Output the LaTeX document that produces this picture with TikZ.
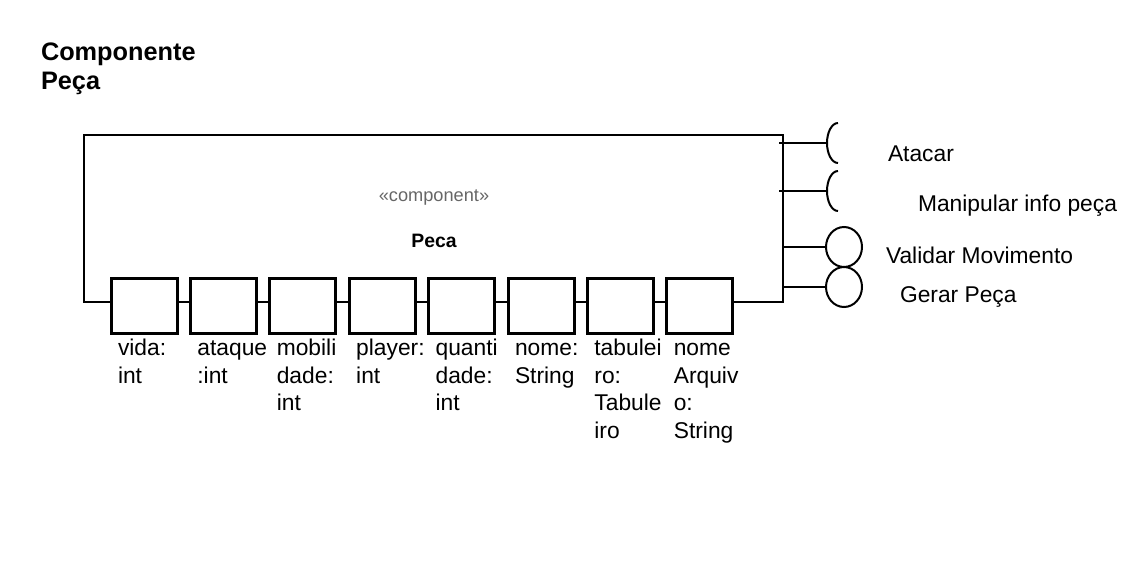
\documentclass[tikz,border=0pt]{standalone}
\usepackage{fontspec}
\setmainfont{Liberation Sans}
\usetikzlibrary{shapes.geometric}

\tikzset{
  port/.style={draw, line width=3pt, minimum width=66pt, minimum height=55pt, inner sep=0pt, outer sep=0pt},
  attr/.style={anchor=north west, align=left, text width=76pt, inner sep=0pt, font=\fontsize{22.8}{27.4}\selectfont, execute at begin node=\strut},
  iface/.style={anchor=base west, inner sep=0pt, font=\fontsize{22.8}{25}\selectfont},
  lolly/.style={draw, ellipse, line width=2pt, minimum width=36pt, minimum height=40pt, inner sep=0pt, outer sep=0pt},
}

\begin{document}
\begin{tikzpicture}[x=1pt, y=-1pt, line width=2pt]
	\useasboundingbox (0,0) rectangle (1123,586);
	
	% Title
	\node[anchor=north west, align=left, text width=200pt, inner sep=0pt, font=\bfseries\fontsize{25.3}{29.5}\selectfont, execute at begin node=\strut] (title) at (40,38.35) {Componente\\Peça};
	
	% Component body
	\coordinate (tl) at (84,135);
	\coordinate (tr) at (783,135);
	\coordinate (br) at (783,302);
	\coordinate (bus) at (84,302);
	\node[anchor=base, text=black!60, font=\fontsize{18.2}{18.2}\selectfont] (stereo) at (434,201) {«component»};
	\node[anchor=base, font=\bfseries\fontsize{19.4}{19.4}\selectfont] (name) at (434,247) {Peca};
	
	% Attribute ports
	\foreach \i/\lbl in {1/{vida:\\int}, 2/{ataque\\:int}, 3/{mobili\\dade:\\int}, 4/{player:\\int}, 5/{quanti\\dade:\\int}, 6/{nome:\\String}, 7/{tabulei\\ro:\\Tabule\\iro}, 8/{nome\\Arquiv\\o:\\String}} {
		\node[port] (p\i) at ({144+79.4*(\i-1)},305.5) {};
		\node[attr] (l\i) at ({117+79.4*(\i-1)},335.8) {\lbl};
	}
	
	% Outline and links between ports
	\draw (p1.west |- bus) -| (tl) -- (tr) -- (br) -- (p8.east |- br);
	\foreach \i [evaluate=\i as \j using int(\i+1)] in {1,...,7} {
		\draw (p\i.east |- bus) -- (p\j.west |- bus);
	}
	
	% Required interfaces
	\coordinate (a1) at (779,143);
	\coordinate (a2) at (779,191);
	\coordinate (s1) at (827,143);
	\coordinate (s2) at (827,191);
	\draw (a1) -- (s1);
	\draw (a2) -- (s2);
	\draw (s1) ++(11,20) arc[start angle=90, end angle=270, x radius=11, y radius=20];
	\draw (s2) ++(11,20) arc[start angle=90, end angle=270, x radius=11, y radius=20];
	
	% Provided interfaces
	\node[lolly] (c1) at (844,247) {};
	\node[lolly] (c2) at (844,287) {};
	\draw (br |- c1) -- (c1.west);
	\draw (br |- c2) -- (c2.west);
	
	% Interface names
	\node[iface] (t1) at (887,161) {Atacar};
	\node[iface] (t2) at (917,211) {Manipular info peça};
	\node[iface] (t3) at (885,263) {Validar Movimento};
	\node[iface] (t4) at (899,302) {Gerar Peça};
	
\end{tikzpicture}
\end{document}
